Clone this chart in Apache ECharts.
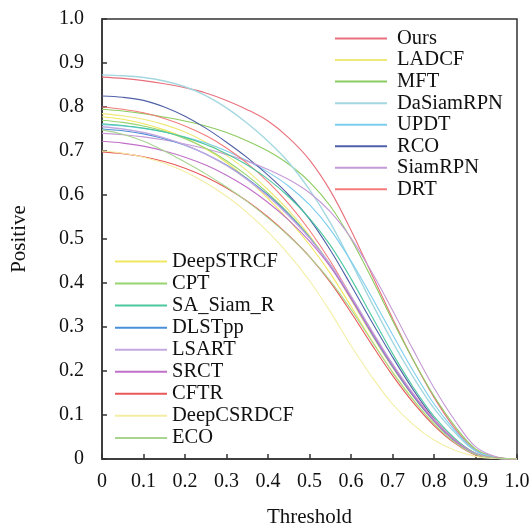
<!DOCTYPE html>
<html><head><meta charset="utf-8">
<script src="https://cdn.jsdelivr.net/npm/echarts@6/dist/echarts.min.js"></script>
<style>html,body{margin:0;padding:0;background:#fff}#c{width:530px;height:525px}</style>
</head><body><div id="c"></div>
<script>
const thresholds = [0,0.05,0.1,0.15,0.2,0.25,0.3,0.35,0.4,0.45,0.5,0.55,0.6,0.65,0.7,0.75,0.8,0.85,0.9,0.95,1.0];
const tickLabels = ['0','0.1','0.2','0.3','0.4','0.5','0.6','0.7','0.8','0.9','1.0'];
const legendTop = ['Ours','LADCF','MFT','DaSiamRPN','UPDT','RCO','SiamRPN','DRT'];
const legendBottom = ['DeepSTRCF','CPT','SA_Siam_R','DLSTpp','LSART','SRCT','CFTR','DeepCSRDCF','ECO'];

const Ours       = [0.868,0.865,0.860,0.853,0.844,0.832,0.815,0.794,0.768,0.730,0.680,0.610,0.520,0.420,0.320,0.225,0.140,0.070,0.020,0.004,0];
const LADCF      = [0.785,0.780,0.772,0.760,0.743,0.720,0.690,0.655,0.612,0.565,0.508,0.440,0.362,0.282,0.208,0.142,0.085,0.042,0.012,0.002,0];
const MFT        = [0.795,0.791,0.785,0.777,0.768,0.757,0.742,0.723,0.700,0.670,0.630,0.575,0.500,0.410,0.315,0.225,0.143,0.075,0.023,0.004,0];
const DaSiamRPN  = [0.873,0.871,0.867,0.859,0.846,0.826,0.798,0.763,0.722,0.674,0.612,0.537,0.448,0.355,0.266,0.186,0.115,0.060,0.018,0.003,0];
const UPDT       = [0.760,0.757,0.751,0.743,0.732,0.718,0.700,0.678,0.652,0.620,0.578,0.522,0.450,0.368,0.283,0.200,0.125,0.065,0.019,0.003,0];
const RCO        = [0.825,0.822,0.815,0.800,0.779,0.752,0.720,0.685,0.645,0.600,0.545,0.475,0.395,0.312,0.232,0.157,0.092,0.042,0.011,0.002,0];
const SiamRPN    = [0.740,0.737,0.732,0.725,0.716,0.705,0.692,0.677,0.658,0.635,0.605,0.562,0.502,0.425,0.338,0.248,0.162,0.088,0.028,0.005,0];
const DRT        = [0.800,0.795,0.787,0.774,0.757,0.735,0.707,0.672,0.630,0.580,0.520,0.450,0.370,0.290,0.215,0.148,0.090,0.045,0.013,0.002,0];
const DeepSTRCF  = [0.778,0.772,0.762,0.748,0.730,0.705,0.674,0.636,0.592,0.543,0.487,0.422,0.347,0.270,0.198,0.135,0.080,0.038,0.010,0.002,0];
const CPT        = [0.770,0.765,0.757,0.745,0.728,0.706,0.678,0.644,0.604,0.558,0.505,0.442,0.368,0.288,0.212,0.145,0.087,0.042,0.011,0.002,0];
const SA_Siam_R  = [0.762,0.758,0.752,0.743,0.731,0.715,0.694,0.668,0.636,0.596,0.547,0.486,0.410,0.325,0.240,0.163,0.097,0.047,0.013,0.002,0];
const DLSTpp     = [0.750,0.746,0.739,0.728,0.713,0.693,0.668,0.637,0.600,0.556,0.503,0.440,0.365,0.285,0.210,0.143,0.086,0.041,0.011,0.002,0];
const LSART      = [0.755,0.750,0.742,0.730,0.714,0.693,0.667,0.635,0.597,0.553,0.502,0.442,0.370,0.292,0.216,0.148,0.089,0.043,0.012,0.002,0];
const SRCT       = [0.722,0.718,0.711,0.700,0.686,0.668,0.645,0.617,0.583,0.543,0.495,0.437,0.365,0.287,0.212,0.145,0.087,0.042,0.011,0.002,0];
const CFTR       = [0.698,0.694,0.687,0.676,0.661,0.641,0.616,0.586,0.550,0.508,0.460,0.402,0.333,0.260,0.190,0.128,0.076,0.036,0.009,0.002,0];
const DeepCSRDCF = [0.700,0.695,0.686,0.672,0.653,0.628,0.597,0.560,0.516,0.465,0.405,0.335,0.258,0.187,0.125,0.078,0.043,0.020,0.006,0.001,0];
const ECO        = [0.748,0.738,0.722,0.700,0.675,0.648,0.618,0.585,0.548,0.507,0.460,0.405,0.340,0.268,0.197,0.134,0.080,0.038,0.010,0.002,0];

const seriesDefs = [
  ['Ours', Ours, '#e8707c'],
  ['LADCF', LADCF, '#eee878'],
  ['MFT', MFT, '#8ccc60'],
  ['DaSiamRPN', DaSiamRPN, '#a4d8e0'],
  ['UPDT', UPDT, '#7ccdee'],
  ['RCO', RCO, '#5060a8'],
  ['SiamRPN', SiamRPN, '#c59ad6'],
  ['DRT', DRT, '#f47c7c'],
  ['DeepSTRCF', DeepSTRCF, '#f0e860'],
  ['CPT', CPT, '#98d470'],
  ['SA_Siam_R', SA_Siam_R, '#4cc8a0'],
  ['DLSTpp', DLSTpp, '#4a90d8'],
  ['LSART', LSART, '#c4a8e0'],
  ['SRCT', SRCT, '#c070c8'],
  ['CFTR', CFTR, '#e85858'],
  ['DeepCSRDCF', DeepCSRDCF, '#f4eea4'],
  ['ECO', ECO, '#a8d490']
];
const thick = {DaSiamRPN: true, LSART: true};

const font = 'Liberation Serif, Times New Roman, serif';
const chart = echarts.init(document.getElementById('c'));
function legendData(names){
  return names.map(n => ({name: n, itemStyle: thick[n] ? {borderWidth: 1, borderColor: 'inherit'} : {borderWidth: 0}}));
}
chart.setOption({
  animation: false,
  backgroundColor: '#fff',
  grid: {left: 102, top: 19, right: 13, bottom: 66, outerBoundsMode: 'none', containLabel: false,
         show: true, borderColor: '#333', borderWidth: 1.5, backgroundColor: 'transparent'},
  xAxis: {
    type: 'value', min: 0, max: 1, interval: 0.1,
    name: 'Threshold', nameLocation: 'middle', nameGap: 48,
    nameTextStyle: {fontFamily: font, fontSize: 21, color: '#111'},
    axisLine: {show: true, lineStyle: {color: '#333', width: 1.5}},
    axisTick: {show: true, inside: true, length: 5, lineStyle: {color: '#333', width: 1.5}},
    splitLine: {show: false},
    axisLabel: {fontFamily: font, fontSize: 20, color: '#111', margin: 13, showMaxLabel: true, showMinLabel: true,
      formatter: v => tickLabels[Math.round(v * 10)]}
  },
  yAxis: {
    type: 'value', min: 0, max: 1, interval: 0.1,
    name: 'Positive', nameLocation: 'middle', nameGap: 72,
    nameTextStyle: {fontFamily: font, fontSize: 21, color: '#111'},
    axisLine: {show: true, lineStyle: {color: '#333', width: 1.5}},
    axisTick: {show: true, inside: true, length: 5, lineStyle: {color: '#333', width: 1.5}},
    splitLine: {show: false},
    axisLabel: {fontFamily: font, fontSize: 20, color: '#111', margin: 18, showMaxLabel: true, showMinLabel: true,
      formatter: v => tickLabels[Math.round(v * 10)]}
  },
  legend: [
    {data: legendData(legendTop), orient: 'vertical', left: 335, top: 28, padding: 0, itemGap: 0.55,
     itemWidth: 52, itemHeight: 2, icon: 'rect',
     textStyle: {fontFamily: font, fontSize: 20.5, color: '#111', lineHeight: 20, padding: [0,0,0,5]}},
    {data: legendData(legendBottom), orient: 'vertical', left: 115, top: 251, padding: 0, itemGap: 1.05,
     itemWidth: 52, itemHeight: 2, icon: 'rect',
     textStyle: {fontFamily: font, fontSize: 20.5, color: '#111', lineHeight: 20}}
  ],
  series: seriesDefs.map(([name, vals, color]) => ({
    name, type: 'line', smooth: 0.35, symbol: 'none', color,
    lineStyle: {width: thick[name] ? 1.4 : 1.1, color},
    data: thresholds.map((t, i) => [t, vals[i]])
  }))
});
</script>
</body></html>
